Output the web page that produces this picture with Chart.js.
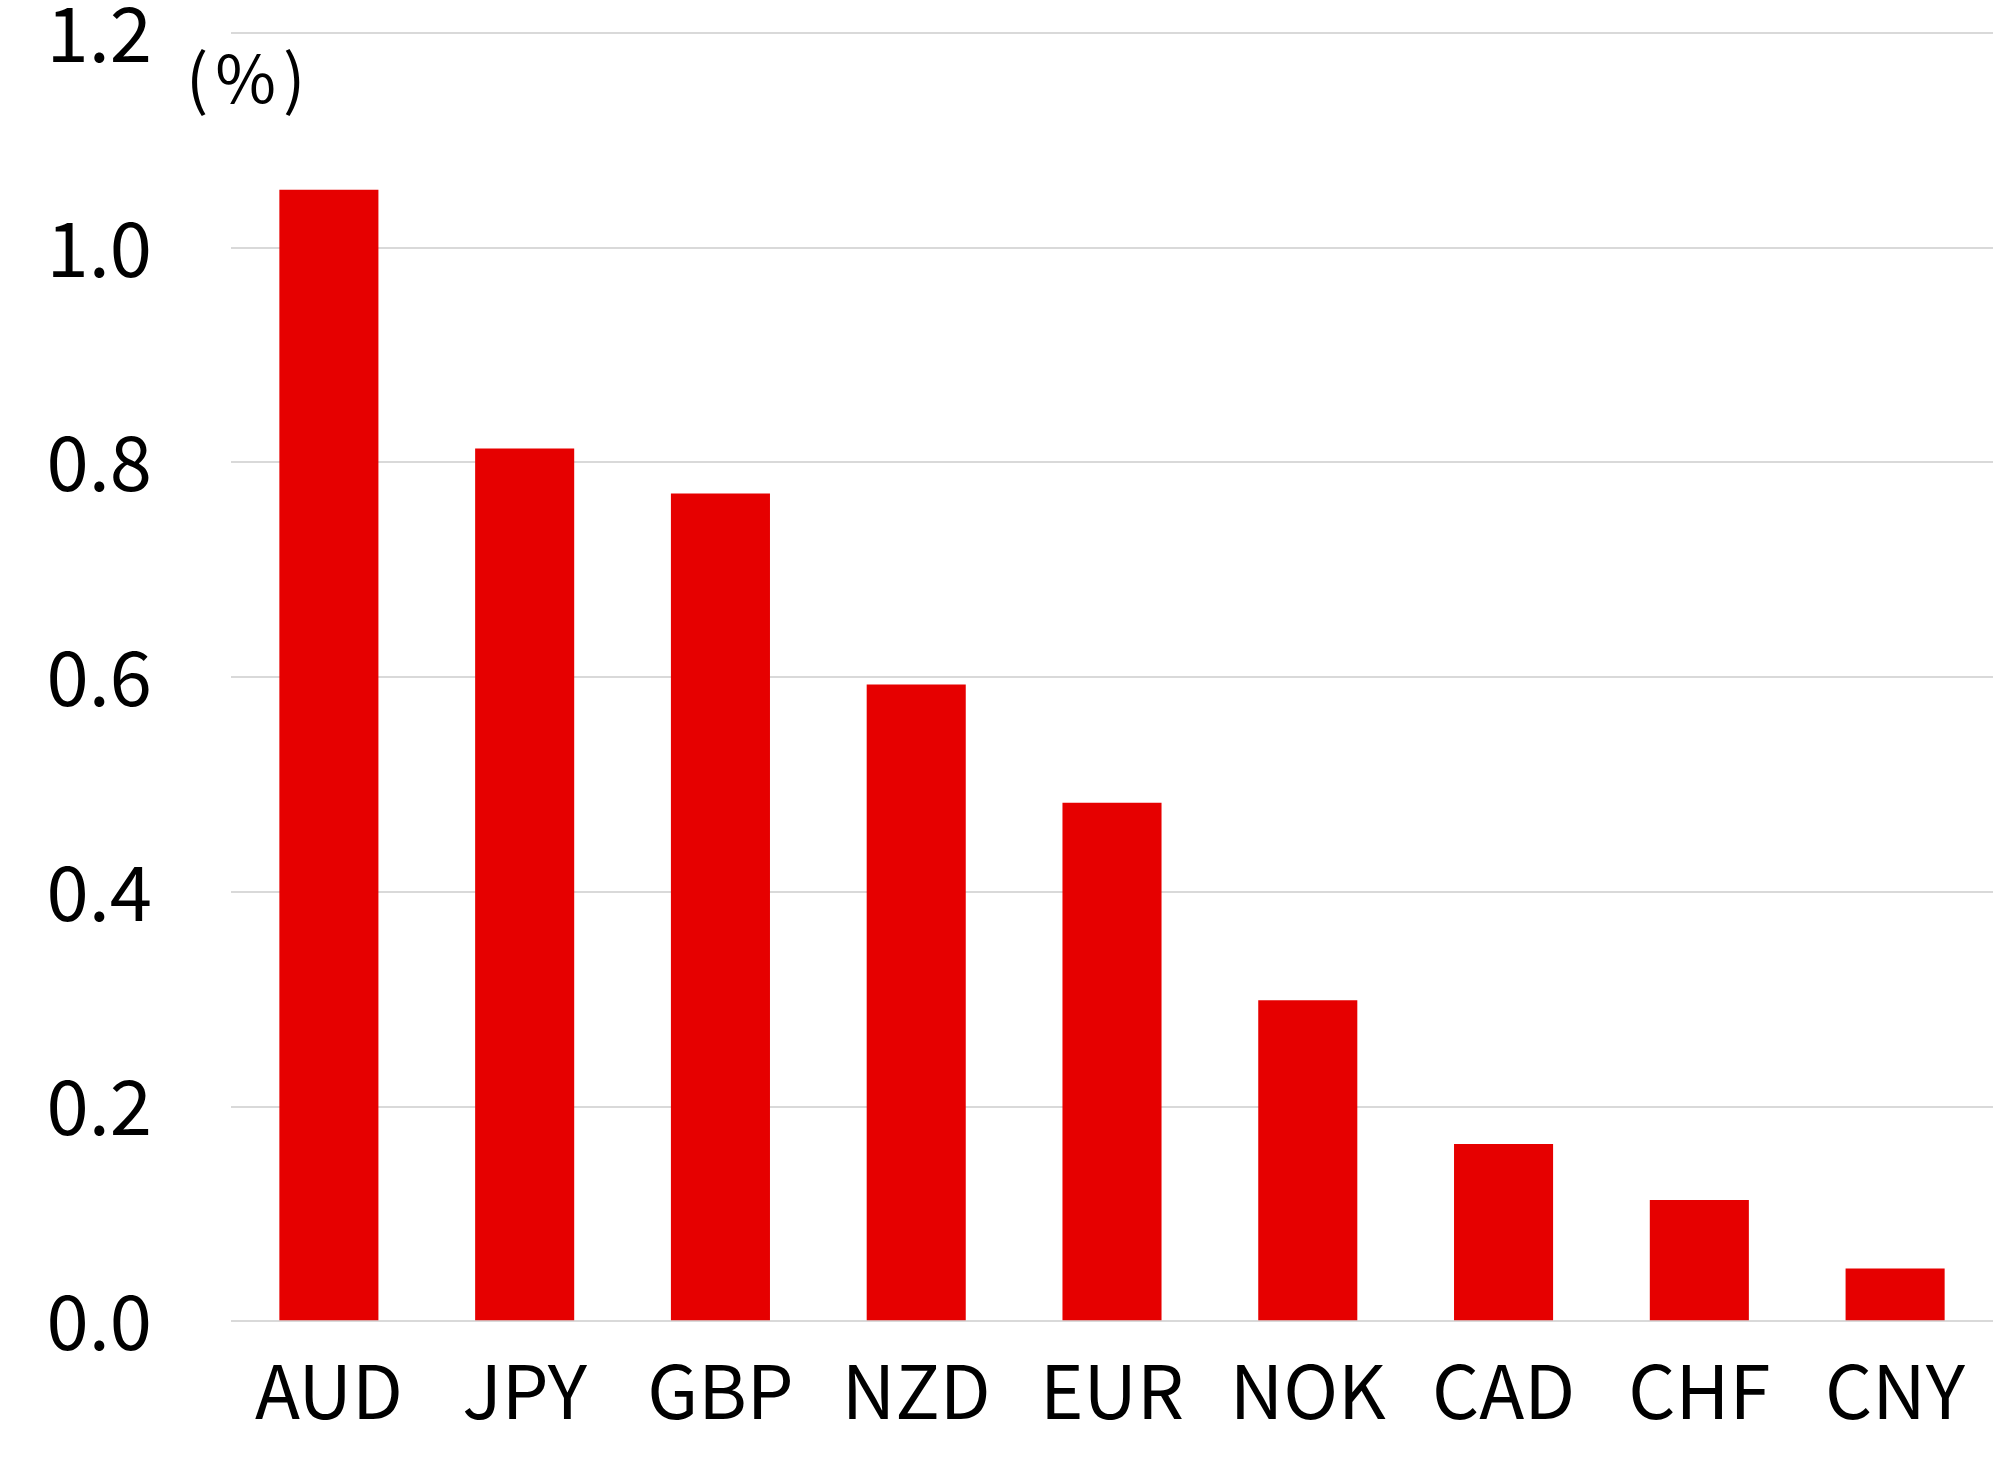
<!DOCTYPE html>
<html>
<head>
<meta charset="utf-8">
<script src="https://cdn.jsdelivr.net/npm/chart.js@4"></script>
<style>
  html, body { margin: 0; padding: 0; background: #fff; }
  #wrap { width: 1994px; height: 1463px; }
</style>
</head>
<body>
<div id="wrap"><canvas id="grafico" width="1994" height="1463"></canvas></div>
<script>
const moedas = ['AUD', 'JPY', 'GBP', 'NZD', 'EUR', 'NOK', 'CAD', 'CHF', 'CNY']
const valores = [1.054, 0.813, 0.771, 0.593, 0.483, 0.299, 0.165, 0.113, 0.049]
const unidade = '(%)'

const fonte = '"Noto Sans CJK JP", "Noto Sans", sans-serif'

// rótulo de unidade no canto superior esquerdo
const rotuloUnidade = {
  id: 'rotuloUnidade',
  afterDraw(chart) {
    const ctx = chart.ctx
    ctx.save()
    ctx.fillStyle = '#000'
    ctx.font = `66px ${fonte}`
    ctx.letterSpacing = '7px'
    ctx.textAlign = 'left'
    ctx.textBaseline = 'middle'
    ctx.fillText(unidade, 186, 78)
    ctx.restore()
  }
}

new Chart(document.getElementById('grafico').getContext('2d'), {
  type: 'bar',
  data: {
    labels: moedas,
    datasets: [{
      data: valores,
      backgroundColor: '#e60000',
      barPercentage: 0.506,
      categoryPercentage: 1
    }]
  },
  options: {
    responsive: false,
    animation: false,
    layout: { padding: { top: 33, right: 1, bottom: 3, left: 0 } },
    plugins: { legend: { display: false }, tooltip: { enabled: false } },
    scales: {
      x: {
        grid: { display: false, drawTicks: false },
        border: { display: false },
        ticks: { color: '#000', padding: 25, font: { family: fonte, size: 74 } }
      },
      y: {
        min: 0,
        max: 1.2,
        afterFit: s => { s.width = 231; s.paddingTop = 0; s.paddingBottom = 0 },
        grid: { color: '#d9d9d9', lineWidth: 2, drawTicks: false },
        border: { display: false },
        ticks: {
          stepSize: 0.2,
          color: '#000',
          padding: 79,
          font: { family: fonte, size: 76 },
          callback: v => Number(v).toFixed(1)
        }
      }
    }
  },
  plugins: [rotuloUnidade]
})
</script>
</body>
</html>
